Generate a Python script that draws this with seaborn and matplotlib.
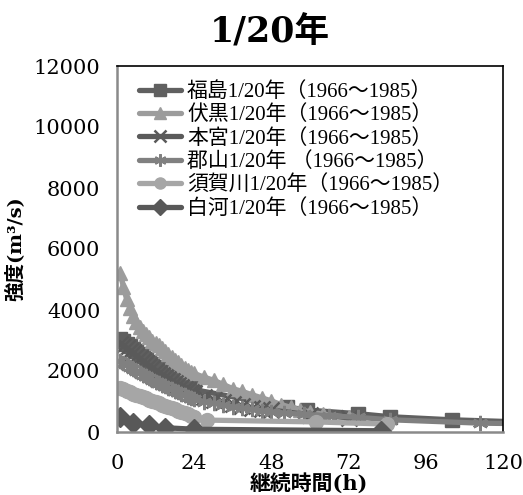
import matplotlib
matplotlib.use("Agg")
import matplotlib.pyplot as plt
import seaborn as sns
import pandas as pd

# ---- data ----
hours = list(range(1, 25))

fukushima_t = hours + [53, 59, 75, 85, 104, 150]
fukushima_v = [3050, 2970, 2890, 2810, 2730, 2650, 2560, 2480, 2390, 2310, 2220, 2140,
               2060, 1990, 1920, 1850, 1780, 1720, 1660, 1600, 1540, 1490, 1440, 1390,
               820, 720, 600, 500, 400, 250]

fushiguro_t = hours + [27, 30, 33, 36, 39, 42, 45, 48, 51, 54, 57, 60, 64, 72]
fushiguro_v = [5200, 4750, 4350, 4050, 3800, 3600, 3450, 3320, 3200, 3100, 3000, 2930,
               2850, 2750, 2650, 2560, 2460, 2370, 2280, 2190, 2100, 2040, 1980, 1920,
               1800, 1700, 1560, 1420, 1330, 1220, 1120, 1020, 900, 810, 730, 660, 580, 480]

motomiya_t = hours + [27, 30, 33, 36, 39, 42, 45, 48, 60, 72]
motomiya_v = [2900, 2830, 2750, 2670, 2590, 2500, 2420, 2340, 2250, 2170, 2090, 2010,
              1940, 1870, 1800, 1730, 1660, 1600, 1540, 1480, 1420, 1370, 1320, 1270,
              1150, 1060, 980, 920, 850, 800, 760, 720, 560, 470]

koriyama_t = hours + [27, 30, 33, 36, 39, 42, 45, 48, 52, 58, 66, 75, 85, 113, 150]
koriyama_v = [2320, 2250, 2190, 2130, 2070, 2000, 1940, 1880, 1820, 1760, 1700, 1650,
              1600, 1550, 1500, 1450, 1400, 1350, 1300, 1250, 1200, 1160, 1120, 1080,
              1000, 940, 880, 830, 780, 740, 700, 660, 620, 580, 530, 480, 400, 290, 240]

sukagawa_t = hours + [28, 62, 84]
sukagawa_v = [1450, 1400, 1350, 1300, 1260, 1220, 1180, 1140, 1100, 1060, 1020, 980,
              940, 900, 860, 820, 780, 740, 700, 660, 620, 580, 540, 500,
              390, 330, 260]

shirakawa_t = [1, 5, 10, 15, 24, 82]
shirakawa_v = [480, 300, 220, 140, 90, 40]

labels = ["福島1/20年（1966～1985）", "伏黒1/20年（1966～1985）", "本宮1/20年（1966～1985）",
          "郡山1/20年 （1966～1985）", "須賀川1/20年（1966～1985）", "白河1/20年（1966～1985）"]
series_t = [fukushima_t, fushiguro_t, motomiya_t, koriyama_t, sukagawa_t, shirakawa_t]
series_v = [fukushima_v, fushiguro_v, motomiya_v, koriyama_v, sukagawa_v, shirakawa_v]
colors = ["#606060", "#9c9c9c", "#5a5a5a", "#808080", "#a6a6a6", "#585858"]
markers = ["s", "^", "x", (6, 2, 0), "o", "D"]

xticks = [0, 24, 48, 72, 96, 120]
yticks = [0, 2000, 4000, 6000, 8000, 10000, 12000]

# ---- plot ----
sns.set_theme(style="white")
plt.rcParams["font.family"] = ["DejaVu Serif", "Noto Sans CJK JP"]
plt.rcParams["text.color"] = "black"

fig = plt.figure(figsize=(5.23, 4.95), dpi=100)
ax = fig.add_axes([117 / 523, 1 - 432 / 495, 386 / 523, 366 / 495])

for t, v, lab, c, m in zip(series_t, series_v, labels, colors, markers):
    df = pd.DataFrame({"t": t, "v": v})
    if m == "x" or isinstance(m, tuple):
        ms, mew = 11, 1.8
    else:
        ms, mew = 10, 1.0
    sns.lineplot(data=df, x="t", y="v", ax=ax, color=c, marker=m, linewidth=3.8,
                 label=lab, sort=False, markeredgecolor=c, markersize=ms,
                 markeredgewidth=mew)

ax.set_xlim(0, 120)
ax.set_ylim(0, 12000)
ax.set_xticks(xticks)
ax.set_yticks(yticks)
ax.set_xticklabels([str(x) for x in xticks], family=["DejaVu Serif"], fontsize=15, color="black")
ax.set_yticklabels([str(y) for y in yticks], family=["DejaVu Serif"], fontsize=15, color="black")
ax.tick_params(axis="x", direction="inout", length=8, width=1.2, color="#8a8a8a", pad=12)
ax.tick_params(axis="y", direction="out", length=6, width=1.2, color="#8a8a8a", pad=6)

for side in ("top", "right"):
    ax.spines[side].set_color("black")
    ax.spines[side].set_linewidth(1.2)
for side in ("left", "bottom"):
    ax.spines[side].set_color("#8a8a8a")
    ax.spines[side].set_linewidth(1.8)

ax.set_xlabel("")
ax.set_ylabel("強度(m³/s)", fontsize=14, fontweight="bold", color="black",
              family=["DejaVu Serif", "Noto Sans CJK JP"], labelpad=6)
fig.text(309 / 523, 1 - 483 / 495, "継続時間(h)", ha="center", va="center", fontsize=15,
         fontweight="bold", family=["DejaVu Serif", "Noto Sans CJK JP"])

fig.text(270 / 523, 1 - 32 / 495, "1/20年", ha="center", va="center", fontsize=25,
         fontweight="bold", family=["DejaVu Serif", "Noto Sans CJK JP"])

leg = ax.legend(loc="upper left", bbox_to_anchor=(0.025, 0.99), frameon=False,
                prop={"family": ["Liberation Serif", "Noto Sans CJK JP"], "size": 15},
                handlelength=2.0, handletextpad=0.3, labelspacing=0.17, borderaxespad=0.2,
                markerscale=0.8)

fig.savefig("out.png", dpi=100)
